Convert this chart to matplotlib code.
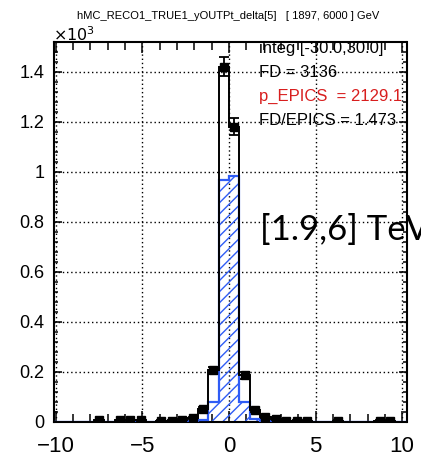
import numpy as np
import matplotlib
matplotlib.use("Agg")
import matplotlib.pyplot as plt
from matplotlib.ticker import FixedLocator, MultipleLocator

# ---------------- data ----------------
bin_width = 0.6
hist_range = (-30.0, 30.0)

fd_centers = [-7.5, -6.3, -5.7, -5.1, -3.9, -3.3, -2.7, -2.1, -1.5, -0.9, -0.3,
              0.3, 0.9, 1.5, 2.1, 2.7, 3.3, 3.9, 4.5, 6.3, 8.7, 9.3]
fd_values = [6, 6, 6, 6, 5, 5, 8, 15, 52, 207, 1420,
             1180, 186, 48, 19, 11, 5, 5, 5, 5, 5, 5]

epics_centers = [-2.1, -1.5, -0.9, -0.3, 0.3, 0.9, 1.5, 2.1, 2.7]
epics_values = [2, 8, 79, 968, 981, 79, 11, 3, 2]

x_ticks = [-10, -5, 0, 5, 10]
x_tick_labels = ["\u221210", "\u22125", "0", "5", "10"]
y_ticks = [0, 200, 400, 600, 800, 1000, 1200, 1400]
y_tick_labels = ["0", "0.2", "0.4", "0.6", "0.8", "1", "1.2", "1.4"]

title = "hMC_RECO1_TRUE1_yOUTPt_delta[5]   [ 1897, 6000 ] GeV"
stats_lines = ["integ [-30.0,30.0]", "FD = 3136", "p_EPICS  = 2129.1", "FD/EPICS = 1.473"]
stats_colors = ["black", "black", "#d81e1e", "black"]
overlay_text = "[1.9,6] TeV"

# ---------------- figure ----------------
W, H = 421, 461
fig = plt.figure(figsize=(W / 100, H / 100), dpi=100)
ax = fig.add_axes([54 / W, 1 - 422 / H, (406.5 - 54) / W, (422 - 42) / H])

edges = np.arange(hist_range[0], hist_range[1] + bin_width / 2, bin_width)
centers_all = edges[:-1] + bin_width / 2


def fill_full(cs, vs):
    full = np.zeros(len(centers_all))
    for c, v in zip(cs, vs):
        idx = int(np.argmin(np.abs(centers_all - c)))
        full[idx] = v
    return full


fd_full = fill_full(fd_centers, fd_values)
ep_full = fill_full(epics_centers, epics_values)

blue = "#2f5cf5"
# hatched EPICS histogram
ax.bar(epics_centers, epics_values, width=bin_width, fill=False, hatch="///",
       edgecolor=blue, linewidth=0, zorder=2)
ax.stairs(ep_full, edges, color=blue, linewidth=1.6, zorder=3)

# FD histogram outline
ax.stairs(fd_full, edges, color="black", linewidth=1.4, zorder=4)

# FD points with errors
fd_err = np.sqrt(np.array(fd_values, dtype=float))
ax.errorbar(fd_centers, fd_values, xerr=bin_width / 2, fmt="none",
            ecolor="black", elinewidth=1.3, capsize=0, zorder=5)
ax.errorbar(fd_centers, fd_values, yerr=fd_err, fmt="s", color="black",
            ms=5.3, elinewidth=1.3, capsize=3.5, capthick=1.3, zorder=6)

ax.set_xlim(-10.1, 10.25)
ax.set_ylim(0, 1518)

ax.xaxis.set_major_locator(FixedLocator(x_ticks))
ax.set_xticklabels(x_tick_labels)
ax.xaxis.set_minor_locator(MultipleLocator(1))
ax.yaxis.set_major_locator(FixedLocator(y_ticks))
ax.set_yticklabels(y_tick_labels)
ax.yaxis.set_minor_locator(MultipleLocator(40))

ax.grid(True, which="major", color="black", linestyle=(0, (1, 2)), linewidth=1.0, zorder=1)
ax.set_axisbelow(True)

ax.tick_params(axis="both", which="both", direction="in", top=True, right=True, width=1.1)
ax.tick_params(axis="x", which="major", length=8, labelsize=16, pad=10)
ax.tick_params(axis="x", which="minor", length=5.5)
ax.tick_params(axis="y", which="major", length=6, labelsize=13, pad=7)
ax.tick_params(axis="y", which="minor", length=3)
for lab in ax.get_xticklabels() + ax.get_yticklabels():
    lab.set_family("Liberation Sans")
for sp in ax.spines.values():
    sp.set_linewidth(1.5)

# title and exponent
fig.text(228 / W, 1 - 16 / H, title, ha="center", va="center", fontsize=8,
         family="Liberation Sans")
fig.text(53 / W, 1 - 41 / H, r"$\times10^{3}$", ha="left", va="baseline", fontsize=11.5,
         family="Liberation Sans")

# stats text
for i, (s, c) in enumerate(zip(stats_lines, stats_colors)):
    fig.text(259 / W, 1 - (48 + 24.2 * i) / H, s, ha="left", va="center",
             fontsize=12, color=c, family="Liberation Sans")

fig.text(260 / W, 1 - 240 / H, overlay_text, ha="left", va="baseline", fontsize=25,
         family="Lato", color="black")

fig.savefig("out.png", dpi=100)
